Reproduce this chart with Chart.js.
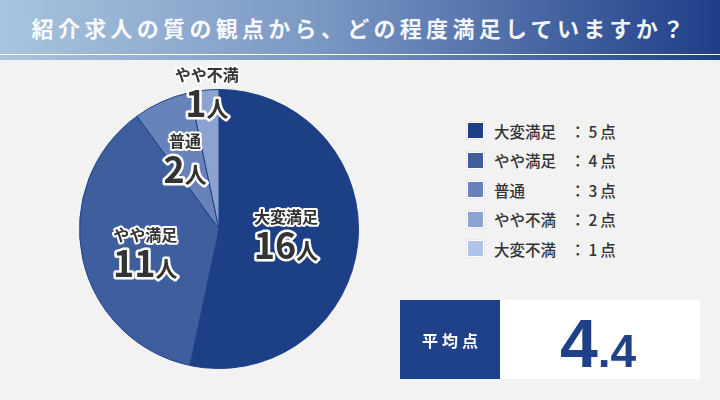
<!DOCTYPE html>
<html lang="ja">
<head>
<meta charset="UTF-8">
<title>紹介求人の質</title>
<script src="https://cdn.jsdelivr.net/npm/chart.js@4.4.1/dist/chart.umd.min.js"></script>
<style>
  html, body { margin: 0; padding: 0; }
  body {
    width: 720px; height: 400px; overflow: hidden; position: relative;
    background: #f2f2f2;
    font-family: "Noto Sans CJK JP", "Noto Sans", sans-serif;
  }
  #header {
    position: absolute; left: 0; top: 0; width: 720px; height: 60px;
    background: linear-gradient(to right, #a9c4de 0%, #7a97c3 45%, #1e3e88 100%);
  }
  #header .line {
    position: absolute; left: 0; top: 54px; width: 720px; height: 1px; background: #ffffff;
  }
  #header h1 {
    margin: 0; position: absolute; left: 0; top: 11px; width: 720px;
    text-align: center; color: rgba(255,255,255,0.95);
    font-size: 22px; font-weight: 700; letter-spacing: 4.3px; line-height: 32px;
  }
  #pieWrap { position: absolute; left: 0; top: 60px; width: 440px; height: 340px; }
  #legend { position: absolute; left: 467px; top: 116px; }
  .row { display: flex; align-items: center; height: 29.5px; color: #333; font-size: 15.5px; font-weight: 500; }
  .sw { width: 17px; height: 17px; border: 1px solid #ffffff; box-sizing: border-box; margin-right: 10px; outline: 1px solid rgba(0,0,0,0.04); }
  .nm { width: 76px; }
  .sc { letter-spacing: 3px; }
  #avg { position: absolute; left: 400px; top: 300px; width: 300px; height: 79px; display: flex; }
  #avg .lab {
    width: 100px; height: 79px; background: #1f418a; color: #fff;
    display: flex; align-items: center; justify-content: center;
    font-size: 16px; font-weight: 700; letter-spacing: 4px; padding-left: 4px; box-sizing: border-box;
  }
  #avg .val {
    width: 200px; height: 79px; background: #ffffff; color: #1f418a;
    display: flex; align-items: baseline; justify-content: center;
    font-family: "Liberation Sans", Arial, sans-serif; font-weight: 700;
    line-height: 79px; padding-top: 4px; padding-right: 4px; box-sizing: border-box;
  }
  #avg .big { font-size: 68px; }
  #avg .small { font-size: 46px; }
</style>
</head>
<body>
<div id="header"><div class="line"></div><h1 id="title"></h1></div>
<div id="pieWrap"><canvas id="pie" width="440" height="340"></canvas></div>
<div id="legend"></div>
<div id="avg"><div class="lab">平均点</div><div class="val" id="avgVal"></div></div>

<script>
const titleText = '紹介求人の質の観点から、どの程度満足していますか？';
const categories = ['大変満足', 'やや満足', '普通', 'やや不満', '大変不満'];
const counts = [16, 11, 2, 1, 0];
const scores = [5, 4, 3, 2, 1];
const colors = ['#1c3f86', '#3e5e9d', '#6882ba', '#8ca3d1', '#b0c4ea'];
const unit = '人';
const scoreUnit = '点';

document.getElementById('title').textContent = titleText;

// legend
const legend = document.getElementById('legend');
categories.forEach((c, i) => {
    const row = document.createElement('div');
    row.className = 'row';
    row.innerHTML = '<span class="sw" style="background:' + colors[i] + '"></span>' +
        '<span class="nm">' + c + '</span><span class="sc">：' + scores[i] + scoreUnit + '</span>';
    legend.appendChild(row);
});

// average score
const total = counts.reduce((a, b) => a + b, 0);
const avg = counts.reduce((s, v, i) => s + v * scores[i], 0) / total;
const parts = avg.toFixed(1).split('.');
document.getElementById('avgVal').innerHTML =
    '<span class="big">' + parts[0] + '</span><span class="small">.' + parts[1] + '</span>';

// label placement per slice: [radius ratio, angle shift in degrees]
const labelPlace = [[0.48, -3.5], [0.55, -4], [0.575, -1], [1.0, 1]];

const sliceLabels = {
    id: 'sliceLabels',
    afterDatasetsDraw(chart) {
        const ctx = chart.ctx;
        const arcs = chart.getDatasetMeta(0).data;
        arcs.forEach((arc, i) => {
            const v = counts[i];
            if (!v) return;
            const p = labelPlace[i] || [0.55, 0];
            const mid = (arc.startAngle + arc.endAngle) / 2 + p[1] * Math.PI / 180;
            const r = arc.outerRadius * p[0];
            const x = arc.x + Math.cos(mid) * r;
            const y = arc.y + Math.sin(mid) * r;
            ctx.save();
            ctx.lineJoin = 'round';
            ctx.strokeStyle = '#ffffff';
            ctx.fillStyle = '#333333';
            ctx.textAlign = 'center';
            // category name
            ctx.font = '700 16px "Noto Sans CJK JP", sans-serif';
            ctx.textBaseline = 'middle';
            ctx.lineWidth = 4;
            ctx.strokeText(categories[i], x, y - 15);
            ctx.fillText(categories[i], x, y - 15);
            // number + unit
            ctx.textBaseline = 'alphabetic';
            ctx.textAlign = 'left';
            const numFont = '700 36px "Noto Sans CJK JP", sans-serif';
            const unitFont = '700 22px "Noto Sans CJK JP", sans-serif';
            ctx.font = numFont;
            const nw = ctx.measureText(String(v)).width;
            ctx.font = unitFont;
            const uw = ctx.measureText(unit).width;
            const sx = x - (nw + uw) / 2;
            const by = y + 27;
            ctx.lineWidth = 5;
            ctx.font = numFont;
            ctx.strokeText(String(v), sx, by);
            ctx.fillText(String(v), sx, by);
            ctx.font = unitFont;
            ctx.strokeText(unit, sx + nw, by);
            ctx.fillText(unit, sx + nw, by);
            ctx.restore();
        });
    }
};

new Chart(document.getElementById('pie').getContext('2d'), {
    type: 'pie',
    data: {
        labels: categories,
        datasets: [{
            data: counts,
            backgroundColor: colors,
            borderColor: '#1c3f86',
            borderWidth: 1
        }]
    },
    options: {
        responsive: false,
        animation: false,
        layout: { padding: { top: 29, left: 79, right: 81, bottom: 31 } },
        plugins: {
            legend: { display: false },
            tooltip: { enabled: false }
        }
    },
    plugins: [sliceLabels]
});
</script>
</body>
</html>
